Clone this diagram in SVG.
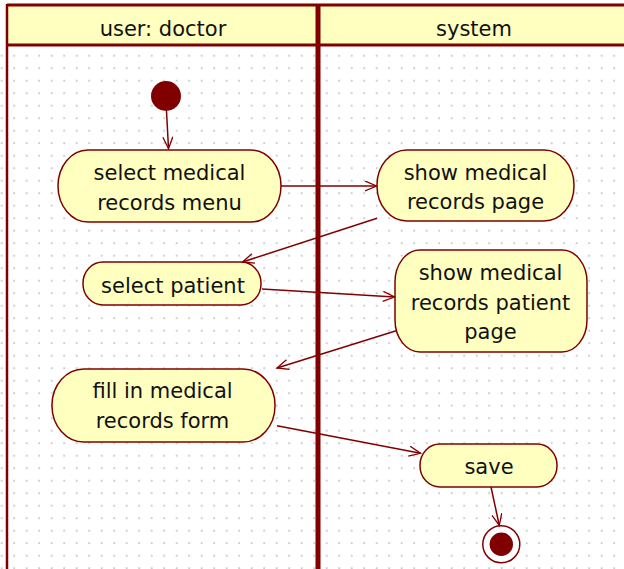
<svg xmlns="http://www.w3.org/2000/svg" width="624" height="569" viewBox="0 0 624 569">
<style>
.node rect{fill:#FFFFC0;stroke:#800000;stroke-width:1.5}
.node text,.hdr text{font-family:"DejaVu Sans",sans-serif;font-size:21px;fill:#111;text-anchor:middle}
.conn line{stroke:#800000;stroke-width:1.5;fill:none;marker-end:url(#arr)}
</style>
<defs>
<pattern id="dots" x="1.7" y="5.7" width="12.5" height="12.5" patternUnits="userSpaceOnUse">
<circle cx="0" cy="0" r="0.9" fill="#b8b8b8"/>
<circle cx="12.5" cy="0" r="0.9" fill="#b8b8b8"/>
<circle cx="0" cy="12.5" r="0.9" fill="#b8b8b8"/>
<circle cx="12.5" cy="12.5" r="0.9" fill="#b8b8b8"/>
</pattern>
<marker id="arr" markerUnits="userSpaceOnUse" markerWidth="14" markerHeight="12" refX="12" refY="5.5" orient="auto">
<path d="M0.5,0.5 L12,5.5 L0.5,10.5" fill="none" stroke="#800000" stroke-width="1.3"/>
</marker>
</defs>
<rect x="0" y="0" width="624" height="569" fill="#fff"/>
<rect x="0" y="46" width="624" height="523" fill="url(#dots)"/>
<g id="swimlanes" class="hdr">
<rect x="7" y="5" width="620" height="40" fill="#FFFFC0"/>
<line x1="7" y1="5" x2="624" y2="5" stroke="#800000" stroke-width="3"/>
<line x1="7" y1="45" x2="624" y2="45" stroke="#800000" stroke-width="3"/>
<line x1="7" y1="4" x2="7" y2="569" stroke="#800000" stroke-width="2.5"/>
<line x1="318" y1="4" x2="318" y2="569" stroke="#800000" stroke-width="5"/>
<text x="163" y="36">user: doctor</text>
<text x="474" y="36">system</text>
</g>
<g id="start">
<circle cx="166" cy="96" r="15" fill="#800000"/>
</g>
<g id="n1" class="node">
<rect x="58" y="150" width="223" height="72" rx="30" ry="36"/>
<text x="169.5" y="180">select medical</text>
<text x="169.5" y="210">records menu</text>
</g>
<g id="n2" class="node">
<rect x="377" y="150" width="197" height="71" rx="30" ry="35"/>
<text x="475.5" y="180">show medical</text>
<text x="475.5" y="209">records page</text>
</g>
<g id="n3" class="node">
<rect x="83" y="262" width="178" height="43" rx="20" ry="21"/>
<text x="173" y="292.5">select patient</text>
</g>
<g id="n4" class="node">
<rect x="395" y="250" width="192" height="102" rx="25" ry="32"/>
<text x="490.5" y="280">show medical</text>
<text x="490.5" y="310">records patient</text>
<text x="490.5" y="339">page</text>
</g>
<g id="n5" class="node">
<rect x="52" y="369" width="223" height="73" rx="32" ry="36"/>
<text x="162.5" y="398">fill in medical</text>
<text x="162.5" y="428">records form</text>
</g>
<g id="n6" class="node">
<rect x="420" y="444" width="137" height="43" rx="20" ry="21"/>
<text x="489" y="473.5">save</text>
</g>
<g id="end">
<circle cx="501.3" cy="544.3" r="18.5" fill="#fff" stroke="#800000" stroke-width="1.5"/>
<circle cx="501.3" cy="544.3" r="11.7" fill="#800000"/>
</g>
<g id="connectors" class="conn">
<line x1="166.5" y1="111" x2="168.5" y2="148.5"/>
<line x1="281" y1="186" x2="376.5" y2="186"/>
<line x1="377" y1="218.3" x2="242.5" y2="262"/>
<line x1="262" y1="289" x2="394.5" y2="297"/>
<line x1="397" y1="330.5" x2="277" y2="368"/>
<line x1="277" y1="425.7" x2="420.5" y2="453.3"/>
<line x1="491" y1="487" x2="499.3" y2="525.5"/>
</g>
</svg>
